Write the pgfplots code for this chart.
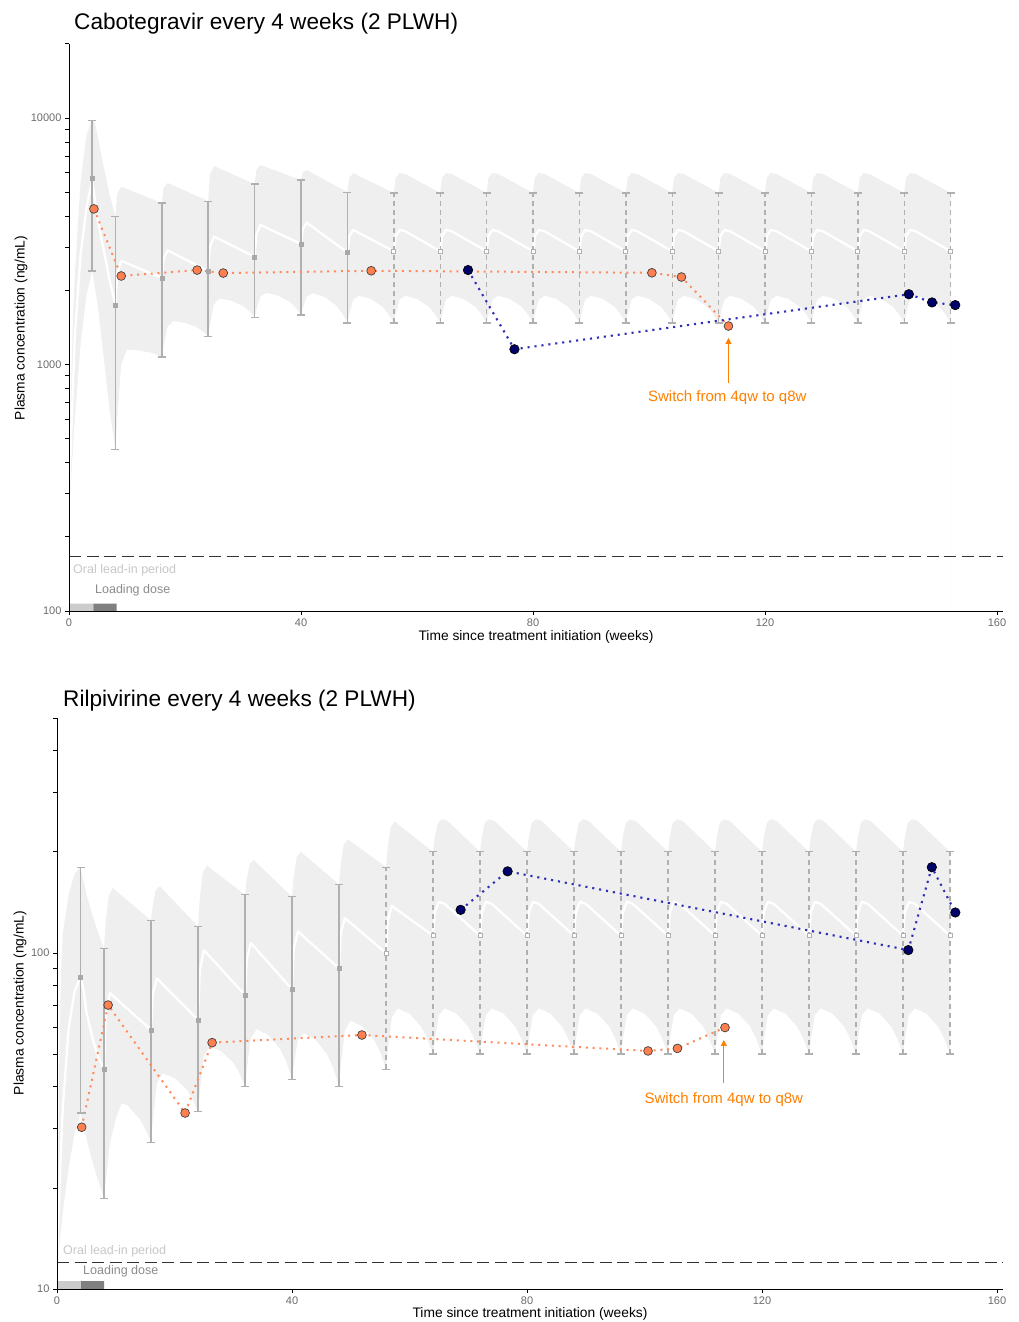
\documentclass[border=0pt]{standalone}
\usepackage{fontspec}
\setmainfont{Liberation Sans}
\usepackage{pgfplots}
\pgfplotsset{compat=1.18}
\usetikzlibrary{arrows.meta}
\definecolor{bandgray}{HTML}{EFEFEF}
\definecolor{errgray}{HTML}{B0B0B0}
\definecolor{errdark}{HTML}{A8A8A8}
\definecolor{ptorange}{HTML}{FF7F50}
\definecolor{lnorange}{HTML}{FF8A5C}
\definecolor{ptnavy}{HTML}{00006B}
\definecolor{lnblue}{HTML}{2E2EB8}
\definecolor{annot}{HTML}{FF8000}
\definecolor{tickgray}{HTML}{6B6B6B}
\definecolor{refline}{HTML}{333333}
\definecolor{oralgray}{HTML}{CCCCCC}
\definecolor{loadgray}{HTML}{808080}
\definecolor{oraltext}{HTML}{C8C8C8}
\definecolor{loadtext}{HTML}{8C8C8C}
\tikzset{
 medline/.style={white, line width=2.3pt, line join=round},
 eb/.style={errgray, line width=1.5pt, mark=-, mark size=4pt, mark options={solid, line width=1.3pt}},
 ebd/.style={errgray, line width=1.4pt, dash pattern=on 5.5pt off 3.5pt, mark=-, mark size=4pt, mark options={solid, line width=1.3pt}},
 obsorange/.style={lnorange, line width=2pt, dash pattern=on 2pt off 4.8pt},
 obsblue/.style={lnblue, line width=2.1pt, dash pattern=on 2.1pt off 4.9pt},
 refdash/.style={refline, line width=1.3pt, dash pattern=on 12pt off 5.5pt},
}
\begin{document}
\begin{tikzpicture}
\useasboundingbox (0,0) rectangle (1019pt,-1322pt);
% ---------------- Top panel: Cabotegravir ----------------
\begin{axis}[scale only axis, at={(69pt,-611pt)}, anchor=south west, width=933.8pt, height=567.2pt,
  axis x line*=bottom, axis y line*=left, ymode=log, axis on top,
  xmin=0, xmax=161, xtick={0,40,80,120,160}, xticklabels={0,40,80,120,160},
  tick align=outside, major tick length=4pt, minor tick length=4pt,
  tick style={black, line width=0.7pt},
  axis line style={black, line width=0.9pt},
  tick label style={font=\fontsize{11}{13}\selectfont, text=tickgray},
  ymin=100, ymax=20000, ytick={100,1000,10000}, yticklabels={100,1000,10000},
  minor ytick={200,300,400,500,600,700,800,900,2000,3000,4000,5000,6000,7000,8000,9000,20000}]
% upper prediction bound (area below filled grey)
\addplot[fill=bandgray, draw=none, forget plot] coordinates {
(0,100) (0,300) (0.3,700) (0.7,1600) (1,2300) (2,5500) (3,8500) (4,9900) (4.4,9700) (5,8300) (6,6300) (7,4900) (8,3980)
(8.3,4914) (9,5270) (16,4520)
(16.3,5200) (17,5448) (24,4604)
(24.3,5883) (25,6384) (32,5394)
(32.3,6166) (33,6445) (40,5600)
(40.3,6012) (41,6150) (48,5000)
(48.3,5715) (49,5970) (56,4965)
(56.3,5712) (57,5980) (58,5930) (64,4965)
(64.3,5712) (65,5980) (66,5930) (72,4965)
(72.3,5712) (73,5980) (74,5930) (80,4965)
(80.3,5712) (81,5980) (82,5930) (88,4965)
(88.3,5712) (89,5980) (90,5930) (96,4965)
(96.3,5712) (97,5980) (98,5930) (104,4965)
(104.3,5712) (105,5980) (106,5930) (112,4965)
(112.3,5712) (113,5980) (114,5930) (120,4965)
(120.3,5712) (121,5980) (122,5930) (128,4965)
(128.3,5712) (129,5980) (130,5930) (136,4965)
(136.3,5712) (137,5980) (138,5930) (144,4965)
(144.3,5712) (145,5980) (146,5930) (152,4965) (152,100)};
% lower prediction bound (area below filled white)
\addplot[fill=white, draw=none, forget plot] coordinates {
(0,100) (0,250) (1,600) (2,1200) (3,1900) (4,2400) (5,1700) (6,1050) (7,650) (8,451)
(8.3,597) (9,999) (10,1150) (12,1140) (14,1118) (15,1098) (16,1072)
(16.3,1185) (17,1426) (18,1500) (20,1474) (22,1417) (23,1367) (24,1300)
(24.3,1445) (25,1754) (26,1850) (28,1811) (30,1724) (31,1651) (32,1553)
(32.3,1662) (33,1885) (34,1950) (36,1903) (38,1797) (39,1707) (40,1589)
(40.3,1688) (41,1886) (42,1944) (44,1880) (46,1740) (47,1623) (48,1472)
(48.3,1589) (49,1829) (50,1900) (52,1843) (54,1716) (55,1609) (56,1472)
(56.3,1589) (57,1829) (58,1900) (60,1843) (62,1716) (63,1609) (64,1472)
(64.3,1589) (65,1829) (66,1900) (68,1843) (70,1716) (71,1609) (72,1472)
(72.3,1589) (73,1829) (74,1900) (76,1843) (78,1716) (79,1609) (80,1472)
(80.3,1589) (81,1829) (82,1900) (84,1843) (86,1716) (87,1609) (88,1472)
(88.3,1589) (89,1829) (90,1900) (92,1843) (94,1716) (95,1609) (96,1472)
(96.3,1589) (97,1829) (98,1900) (100,1843) (102,1716) (103,1609) (104,1472)
(104.3,1589) (105,1829) (106,1900) (108,1843) (110,1716) (111,1609) (112,1472)
(112.3,1589) (113,1829) (114,1900) (116,1843) (118,1716) (119,1609) (120,1472)
(120.3,1589) (121,1829) (122,1900) (124,1843) (126,1716) (127,1609) (128,1472)
(128.3,1589) (129,1829) (130,1900) (132,1843) (134,1716) (135,1609) (136,1472)
(136.3,1589) (137,1829) (138,1900) (140,1843) (142,1716) (143,1609) (144,1472)
(144.3,1589) (145,1829) (146,1900) (148,1843) (150,1716) (151,1609) (152,1472) (152,100)};
% median prediction
\addplot[medline] coordinates {
(0,300) (1,1300) (2,2800) (3,4300) (4,5600) (4.5,4600) (5,3800) (6,2900) (7,2200) (8,1738)
(8.3,2326) (9,2635) (16,2245)
(16.3,2688) (17,2904) (24,2393)
(24.3,2999) (25,3304) (32,2735)
(32.3,3368) (33,3682) (40,3085)
(40.3,3540) (41,3760) (48,2846)
(48.3,3299) (49,3514) (56,2880)
(56.3,3311) (57,3514) (58,3470) (64,2880)
(64.3,3311) (65,3514) (66,3470) (72,2880)
(72.3,3311) (73,3514) (74,3470) (80,2880)
(80.3,3311) (81,3514) (82,3470) (88,2880)
(88.3,3311) (89,3514) (90,3470) (96,2880)
(96.3,3311) (97,3514) (98,3470) (104,2880)
(104.3,3311) (105,3514) (106,3470) (112,2880)
(112.3,3311) (113,3514) (114,3470) (120,2880)
(120.3,3311) (121,3514) (122,3470) (128,2880)
(128.3,3311) (129,3514) (130,3470) (136,2880)
(136.3,3311) (137,3514) (138,3470) (144,2880)
(144.3,3311) (145,3514) (146,3470) (152,2880)};
% observed ranges
\addplot[eb] coordinates {(4,2398) (4,9800)};
\addplot[eb] coordinates {(8,451) (8,3980)};
\addplot[eb] coordinates {(16,1072) (16,4520)};
\addplot[eb] coordinates {(24,1300) (24,4583)};
\addplot[eb] coordinates {(32,1553) (32,5394)};
\addplot[eb] coordinates {(40,1589) (40,5600)};
\addplot[eb] coordinates {(48,1472) (48,5000)};
\addplot[ebd] coordinates {(56,1472) (56,4965)};
\addplot[ebd] coordinates {(64,1472) (64,4965)};
\addplot[ebd] coordinates {(72,1472) (72,4965)};
\addplot[ebd] coordinates {(80,1472) (80,4965)};
\addplot[ebd] coordinates {(88,1472) (88,4965)};
\addplot[ebd] coordinates {(96,1472) (96,4965)};
\addplot[ebd] coordinates {(104,1472) (104,4965)};
\addplot[ebd] coordinates {(112,1472) (112,4965)};
\addplot[ebd] coordinates {(120,1472) (120,4965)};
\addplot[ebd] coordinates {(128,1472) (128,4965)};
\addplot[ebd] coordinates {(136,1472) (136,4965)};
\addplot[ebd] coordinates {(144,1472) (144,4965)};
\addplot[ebd] coordinates {(152,1472) (152,4965)};
\addplot[only marks, mark=square*, mark size=2pt, mark options={fill=errdark, draw=errdark}] coordinates {(4,5710) (8,1738) (16,2245) (24,2393) (32,2735) (40,3085) (48,2846)};
\addplot[only marks, mark=square*, mark size=2pt, mark options={fill=white, draw=errgray, line width=0.8pt}] coordinates {(56,2880) (64,2880) (72,2880) (80,2880) (88,2880) (96,2880) (104,2880) (112,2880) (120,2880) (128,2880) (136,2880) (144,2880) (152,2880)};
\addplot[refdash] coordinates {(0,166) (161,166)};
\addplot[fill=oralgray, draw=none] coordinates {(0,100) (4.2,100) (4.2,107.1) (0,107.1) (0,100)};
\addplot[fill=loadgray, draw=none] coordinates {(4.2,100) (8.2,100) (8.2,107.1) (4.2,107.1) (4.2,100)};
\node[anchor=west, inner sep=0pt, text=oraltext, font=\fontsize{12.5}{14}\selectfont] at (axis cs:0.69,146.6) {Oral lead-in period};
\node[anchor=west, inner sep=0pt, text=loadtext, font=\fontsize{12.5}{14}\selectfont] at (axis cs:4.48,121.7) {Loading dose};
\addplot[obsorange] coordinates {(4.3,4277) (9.0,2286) (22.1,2416) (26.6,2349) (52.1,2400) (100.5,2355) (105.6,2264) (113.7,1432)};
\addplot[obsblue] coordinates {(68.8,2416) (76.8,1153) (144.8,1928) (148.8,1786) (152.8,1742)};
\addplot[only marks, mark=*, mark size=4.4pt, mark options={fill=ptorange, draw=black!75, line width=0.7pt}] coordinates {(4.3,4277) (9.0,2286) (22.1,2416) (26.6,2349) (52.1,2400) (100.5,2355) (105.6,2264) (113.7,1432)};
\addplot[only marks, mark=*, mark size=4.7pt, mark options={fill=ptnavy, draw=black, line width=0.7pt}] coordinates {(68.8,2416) (76.8,1153) (144.8,1928) (148.8,1786) (152.8,1742)};
\draw[annot, line width=0.8pt, -{Triangle[length=6pt,width=6pt]}] (axis cs:113.7,842) -- (axis cs:113.7,1281);
\node[text=annot, font=\fontsize{15}{18}\selectfont] at (axis cs:113.5,731) {Switch from 4qw to q8w};
\end{axis}
% ---------------- Bottom panel: Rilpivirine ----------------
\begin{axis}[scale only axis, at={(57pt,-1289pt)}, anchor=south west, width=945.9pt, height=570.9pt,
  axis x line*=bottom, axis y line*=left, ymode=log, axis on top,
  xmin=0, xmax=161, xtick={0,40,80,120,160}, xticklabels={0,40,80,120,160},
  tick align=outside, major tick length=4pt, minor tick length=4pt,
  tick style={black, line width=0.7pt},
  axis line style={black, line width=0.9pt},
  tick label style={font=\fontsize{11}{13}\selectfont, text=tickgray},
  ymin=10, ymax=500, ytick={10,100}, yticklabels={10,100},
  minor ytick={20,30,40,50,60,70,80,90,200,300,400,500}]
\addplot[fill=bandgray, draw=none, forget plot] coordinates {
(0,10) (0,12) (0.3,40) (0.7,90) (1,115) (2,150) (3,172) (4,180) (5,150) (6,130) (7,115) (8,103)
(8.3,124) (8.8,148) (9.5,156) (16,125)
(16.3,139) (16.8,154) (17.5,158) (24,120)
(24.3,145) (24.8,173) (25.5,182) (32,149)
(32.3,166) (32.8,184) (33.5,189) (40,147)
(40.3,169) (40.8,193) (41.5,200) (48,160)
(48.3,184) (48.8,210) (49.5,218) (56,180)
(56.3,207) (56.8,237) (57.5,246) (64,200)
(64.3,221) (64.8,243.5) (65.5,250) (66.5,247) (72,200)
(72.3,221) (72.8,243.5) (73.5,250) (74.5,247) (80,200)
(80.3,221) (80.8,243.5) (81.5,250) (82.5,247) (88,200)
(88.3,221) (88.8,243.5) (89.5,250) (90.5,247) (96,200)
(96.3,221) (96.8,243.5) (97.5,250) (98.5,247) (104,200)
(104.3,221) (104.8,243.5) (105.5,250) (106.5,247) (112,200)
(112.3,221) (112.8,243.5) (113.5,250) (114.5,247) (120,200)
(120.3,221) (120.8,243.5) (121.5,250) (122.5,247) (128,200)
(128.3,221) (128.8,243.5) (129.5,250) (130.5,247) (136,200)
(136.3,221) (136.8,243.5) (137.5,250) (138.5,247) (144,200)
(144.3,221) (144.8,243.5) (145.5,250) (146.5,247) (152,200) (152,10)};
\addplot[fill=white, draw=none, forget plot] coordinates {
(0,10) (0,11.5) (0.5,14) (1,17) (2,23) (3,29) (4,33.4) (5,28) (6,24) (7,21) (8,18.6)
(8.3,21) (9,27) (10,32) (11,35.7) (12,35.2) (14,32.1) (15,30.0) (16,27.3)
(16.3,31.5) (17,40.8) (18,43.8) (20,42.4) (22,39.4) (23,36.9) (24,33.7)
(24.3,38.5) (25,49.2) (26,52.6) (28,50.9) (30,47.1) (31,44.0) (32,40)
(32.3,45.0) (33,55.9) (34,59.3) (36,56.9) (38,51.7) (39,47.5) (40,42.1)
(40.3,46.3) (41,55.0) (42,57.7) (44,55.2) (46,49.8) (47,45.5) (48,40)
(48.3,45.8) (49,58.7) (50,62.8) (52,60.4) (54,55.0) (55,50.6) (56,45.1)
(56.3,51.1) (57,64.3) (58,68.4) (60,65.9) (62,60.3) (63,55.6) (64,50)
(64.3,54.9) (65,65.3) (66,68.4) (68,65.9) (70,60.3) (71,55.6) (72,50)
(72.3,54.9) (73,65.3) (74,68.4) (76,65.9) (78,60.3) (79,55.6) (80,50)
(80.3,54.9) (81,65.3) (82,68.4) (84,65.9) (86,60.3) (87,55.6) (88,50)
(88.3,54.9) (89,65.3) (90,68.4) (92,65.9) (94,60.3) (95,55.6) (96,50)
(96.3,54.9) (97,65.3) (98,68.4) (100,65.9) (102,60.3) (103,55.6) (104,50)
(104.3,54.9) (105,65.3) (106,68.4) (108,65.9) (110,60.3) (111,55.6) (112,50)
(112.3,54.9) (113,65.3) (114,68.4) (116,65.9) (118,60.3) (119,55.6) (120,50)
(120.3,54.9) (121,65.3) (122,68.4) (124,65.9) (126,60.3) (127,55.6) (128,50)
(128.3,54.9) (129,65.3) (130,68.4) (132,65.9) (134,60.3) (135,55.6) (136,50)
(136.3,54.9) (137,65.3) (138,68.4) (140,65.9) (142,60.3) (143,55.6) (144,50)
(144.3,54.9) (145,65.3) (146,68.4) (148,65.9) (150,60.3) (151,55.6) (152,50) (152,10)};
\addplot[medline] coordinates {
(0,12) (0.5,22) (1,35) (2,60) (3,77) (4,85) (4.5,78) (5,67) (6,56) (7,49) (8,45.1)
(8.3,65) (9,76) (16,59)
(16.3,75.5) (17,84) (24,63.2)
(24.3,88.3) (25,102) (32,75)
(32.3,96) (33,107) (40,78)
(40.3,103) (41,116) (48,90)
(48.3,114.5) (49,127) (56,100)
(56.3,125) (57,138) (64,112.6)
(64.3,132) (65,142) (66,140) (72,112.6)
(72.3,132) (73,142) (74,140) (80,112.6)
(80.3,132) (81,142) (82,140) (88,112.6)
(88.3,132) (89,142) (90,140) (96,112.6)
(96.3,132) (97,142) (98,140) (104,112.6)
(104.3,132) (105,142) (106,140) (112,112.6)
(112.3,132) (113,142) (114,140) (120,112.6)
(120.3,132) (121,142) (122,140) (128,112.6)
(128.3,132) (129,142) (130,140) (136,112.6)
(136.3,132) (137,142) (138,140) (144,112.6)
(144.3,132) (145,142) (146,140) (152,112.6)};
\addplot[eb] coordinates {(4,33.4) (4,180)};
\addplot[eb] coordinates {(8,18.6) (8,103)};
\addplot[eb] coordinates {(16,27.3) (16,125)};
\addplot[eb] coordinates {(24,33.7) (24,120)};
\addplot[eb] coordinates {(32,40) (32,149)};
\addplot[eb] coordinates {(40,42.1) (40,147)};
\addplot[eb] coordinates {(48,40) (48,160)};
\addplot[ebd] coordinates {(56,45.1) (56,180)};
\addplot[ebd] coordinates {(64,50) (64,200)};
\addplot[ebd] coordinates {(72,50) (72,200)};
\addplot[ebd] coordinates {(80,50) (80,200)};
\addplot[ebd] coordinates {(88,50) (88,200)};
\addplot[ebd] coordinates {(96,50) (96,200)};
\addplot[ebd] coordinates {(104,50) (104,200)};
\addplot[ebd] coordinates {(112,50) (112,200)};
\addplot[ebd] coordinates {(120,50) (120,200)};
\addplot[ebd] coordinates {(128,50) (128,200)};
\addplot[ebd] coordinates {(136,50) (136,200)};
\addplot[ebd] coordinates {(144,50) (144,200)};
\addplot[ebd] coordinates {(152,50) (152,200)};
\addplot[only marks, mark=square*, mark size=2pt, mark options={fill=errdark, draw=errdark}] coordinates {(4,85) (8,45.1) (16,59) (24,63.2) (32,75) (40,78) (48,90)};
\addplot[only marks, mark=square*, mark size=2pt, mark options={fill=white, draw=errgray, line width=0.8pt}] coordinates {(56,100) (64,112.6) (72,112.6) (80,112.6) (88,112.6) (96,112.6) (104,112.6) (112,112.6) (120,112.6) (128,112.6) (136,112.6) (144,112.6) (152,112.6)};
\addplot[refdash] coordinates {(0,12) (161,12)};
\addplot[fill=oralgray, draw=none] coordinates {(0,10) (4.1,10) (4.1,10.56) (0,10.56) (0,10)};
\addplot[fill=loadgray, draw=none] coordinates {(4.1,10) (8,10) (8,10.56) (4.1,10.56) (4.1,10)};
\node[anchor=west, inner sep=0pt, text=oraltext, font=\fontsize{12.5}{14}\selectfont] at (axis cs:1.02,12.97) {Oral lead-in period};
\node[anchor=west, inner sep=0pt, text=loadtext, font=\fontsize{12.5}{14}\selectfont] at (axis cs:4.43,11.31) {Loading dose};
\addplot[obsorange] coordinates {(4.2,30.3) (8.7,70) (21.8,33.4) (26.4,54.1) (51.9,57.0) (100.6,51.1) (105.6,52.0) (113.7,60.0)};
\addplot[obsblue] coordinates {(68.7,134.4) (76.7,175) (144.9,102) (148.9,180) (152.9,132)};
\addplot[only marks, mark=*, mark size=4.4pt, mark options={fill=ptorange, draw=black!75, line width=0.7pt}] coordinates {(4.2,30.3) (8.7,70) (21.8,33.4) (26.4,54.1) (51.9,57.0) (100.6,51.1) (105.6,52.0) (113.7,60.0)};
\addplot[only marks, mark=*, mark size=4.7pt, mark options={fill=ptnavy, draw=black, line width=0.7pt}] coordinates {(68.7,134.4) (76.7,175) (144.9,102) (148.9,180) (152.9,132)};
\draw[annot, line width=0.8pt, -{Triangle[length=6pt,width=6pt]}] (axis cs:113.5,41.0) -- (axis cs:113.5,55.1);
\node[text=annot, font=\fontsize{15}{18}\selectfont] at (axis cs:113.5,36.5) {Switch from 4qw to q8w};
\end{axis}
% ---------------- Titles and axis labels ----------------
\node[anchor=base west, inner sep=0pt, font=\fontsize{22.6}{26}\selectfont] at (74pt,-29.5pt) {Cabotegravir every 4 weeks (2 PLWH)};
\node[anchor=base west, inner sep=0pt, font=\fontsize{22.6}{26}\selectfont] at (63pt,-706pt) {Rilpivirine every 4 weeks (2 PLWH)};
\node[rotate=90, font=\fontsize{13.8}{16}\selectfont] at (21pt,-328pt) {Plasma concentration (ng/mL)};
\node[rotate=90, font=\fontsize{13.8}{16}\selectfont] at (20pt,-1003pt) {Plasma concentration (ng/mL)};
\node[font=\fontsize{13.8}{16}\selectfont] at (536pt,-637pt) {Time since treatment initiation (weeks)};
\node[font=\fontsize{13.8}{16}\selectfont] at (530pt,-1314pt) {Time since treatment initiation (weeks)};
\end{tikzpicture}
\end{document}
